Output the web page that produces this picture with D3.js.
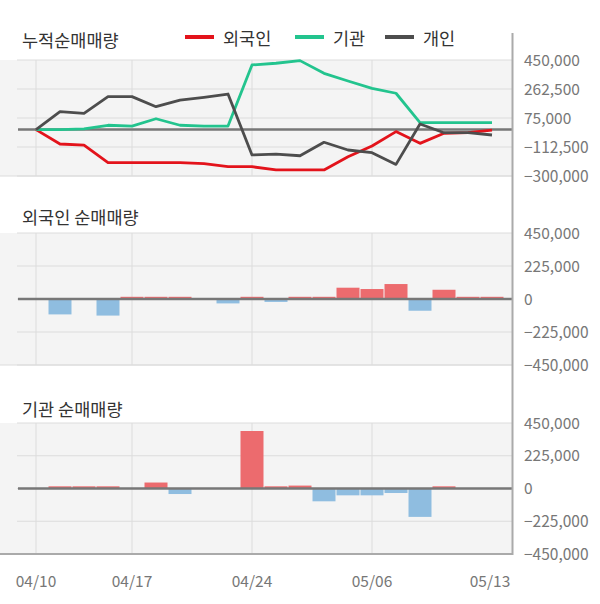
<!DOCTYPE html>
<html>
<head>
<meta charset="utf-8">
<script src="https://cdn.jsdelivr.net/npm/d3@7"></script>
<style>
  body { margin: 0; background: #fff; }
  text { font-family: "Noto Sans CJK KR", "Noto Sans", sans-serif; }
</style>
</head>
<body>
<div id="chart"></div>
<script>
var width = 600;
var height = 604;

// 20 trading days, only some are labelled
var days = d3.range(20);
var tickIndex = [0, 4, 9, 14, 19];
var tickLabels = ["04/10", "04/17", "04/24", "05/06", "05/13"];

// cumulative net buying
var foreignCum = [0, -93000, -101000, -214000, -214000, -214000, -214000, -220000, -240000, -240000,
    -261000, -261000, -261000, -175000, -106000, -13000, -89000, -24000, -20000, -3000];
var instCum = [0, 0, 5000, 28000, 23000, 70000, 28000, 23000, 23000, 418000,
    429000, 446000, 364000, 314000, 267000, 235000, 45000, 45000, 45000, 45000];
var personCum = [0, 116000, 105000, 213000, 213000, 148000, 191000, 209000, 230000, -164000,
    -158000, -169000, -82000, -132000, -149000, -225000, 36000, -20000, -20000, -35000];

// daily net buying
var foreignDaily = [0, -105000, -5000, -113000, 15000, 15000, 15000, 0, -30000, 15000,
    -20000, 15000, 15000, 77000, 68000, 102000, -80000, 63000, 15000, 15000];
var instDaily = [0, 15000, 15000, 15000, 0, 41000, -38000, 0, 0, 395000,
    15000, 20000, -88000, -47000, -47000, -31000, -195000, 15000, 0, 0];

var cumTicks = [450000, 262500, 75000, -112500, -300000];
var dailyTicks = [450000, 225000, 0, -225000, -450000];

var lineColors = { foreign: "#e3131b", inst: "#23c48e", person: "#4d4d4d" };
var upColor = "#ec6b6e";
var downColor = "#8fbde0";

var svg = d3.select("#chart").append("svg")
    .attr("width", width)
    .attr("height", height);

var x = d3.scaleLinear()
    .domain([0, 19])
    .range([36, 492]);
var step = x(1) - x(0);
var plotRight = 512;

var yCum = d3.scaleLinear().domain([-300000, 450000]).range([176, 60]);
var yForeign = d3.scaleLinear().domain([-450000, 450000]).range([365, 233]);
var yInst = d3.scaleLinear().domain([-450000, 450000]).range([554, 423]);

var fmt = d3.format(",");

function drawPanel(y, ticks, bottomColor, bottomWidth) {
    var g = svg.append("g");
    g.append("rect")
        .attr("x", 0)
        .attr("y", y.range()[1])
        .attr("width", plotRight)
        .attr("height", y.range()[0] - y.range()[1])
        .attr("fill", "#f4f4f4");

    g.selectAll(".hgrid")
        .data(ticks)
        .enter().append("line")
        .attr("x1", 17)
        .attr("x2", plotRight)
        .attr("y1", function(d) { return y(d); })
        .attr("y2", function(d) { return y(d); })
        .attr("stroke", "#dcdcdc")
        .attr("stroke-width", 1);

    g.selectAll(".vgrid")
        .data(tickIndex.slice(0, 4))
        .enter().append("line")
        .attr("x1", function(d) { return x(d); })
        .attr("x2", function(d) { return x(d); })
        .attr("y1", y.range()[1])
        .attr("y2", y.range()[0])
        .attr("stroke", "#dcdcdc")
        .attr("stroke-width", 1);

    g.append("line")
        .attr("x1", 0)
        .attr("x2", plotRight)
        .attr("y1", y.range()[0])
        .attr("y2", y.range()[0])
        .attr("stroke", bottomColor)
        .attr("stroke-width", bottomWidth);

    g.selectAll(".ylabel")
        .data(ticks)
        .enter().append("text")
        .attr("x", 524)
        .attr("y", function(d) { return y(d); })
        .attr("dy", "0.36em")
        .attr("font-size", 15.5)
        .attr("fill", "#777")
        .text(function(d) { return fmt(d); });
    return g;
}

function zeroLine(y) {
    svg.append("line")
        .attr("x1", 18)
        .attr("x2", plotRight)
        .attr("y1", y(0))
        .attr("y2", y(0))
        .attr("stroke", "#777")
        .attr("stroke-width", 2.5);
}

function title(txt, yPos) {
    svg.append("text")
        .attr("x", 22)
        .attr("y", yPos)
        .attr("font-size", 17.5)
        .attr("fill", "#333")
        .text(txt);
}

// top panel: cumulative
drawPanel(yCum, cumTicks, "#dcdcdc", 1);
zeroLine(yCum);

var line = d3.line()
    .x(function(d, i) { return x(i); })
    .y(function(d) { return yCum(d); });

[[foreignCum, lineColors.foreign], [instCum, lineColors.inst], [personCum, lineColors.person]].forEach(function(s) {
    svg.append("path")
        .datum(s[0])
        .attr("d", line)
        .attr("fill", "none")
        .attr("stroke", s[1])
        .attr("stroke-width", 2.8)
        .attr("stroke-linejoin", "round");
});

title("누적순매매량", 47);

var legendData = [
    { label: "외국인", color: lineColors.foreign, x: 185 },
    { label: "기관", color: lineColors.inst, x: 295 },
    { label: "개인", color: lineColors.person, x: 385 }
];
var legend = svg.append("g");
legend.selectAll("line")
    .data(legendData)
    .enter().append("line")
    .attr("x1", function(d) { return d.x; })
    .attr("x2", function(d) { return d.x + 29; })
    .attr("y1", 37)
    .attr("y2", 37)
    .attr("stroke", function(d) { return d.color; })
    .attr("stroke-width", 4);
legend.selectAll("text")
    .data(legendData)
    .enter().append("text")
    .attr("x", function(d) { return d.x + 38; })
    .attr("y", 45)
    .attr("font-size", 17.5)
    .attr("fill", "#333")
    .text(function(d) { return d.label; });

// bar panels
function drawBars(values, y) {
    svg.append("g").selectAll("rect")
        .data(values)
        .enter().append("rect")
        .attr("x", function(d, i) { return x(i) - step / 2 + 0.5; })
        .attr("width", step - 1)
        .attr("y", function(d) { return d >= 0 ? y(d) : y(0); })
        .attr("height", function(d) { return Math.abs(y(d) - y(0)); })
        .attr("fill", function(d) { return d >= 0 ? upColor : downColor; });
}

drawPanel(yForeign, dailyTicks, "#dcdcdc", 1);
drawBars(foreignDaily, yForeign);
zeroLine(yForeign);
title("외국인 순매매량", 224);

drawPanel(yInst, dailyTicks, "#aaa", 2);
drawBars(instDaily, yInst);
zeroLine(yInst);
title("기관 순매매량", 416);

// right axis line
svg.append("line")
    .attr("x1", plotRight + 0.5)
    .attr("x2", plotRight + 0.5)
    .attr("y1", 33)
    .attr("y2", 555)
    .attr("stroke", "#aaa")
    .attr("stroke-width", 2);

// x labels
svg.append("g").selectAll("text")
    .data(tickIndex)
    .enter().append("text")
    .attr("x", function(d, i) { return i === tickIndex.length - 1 ? x(d) - 2 : x(d); })
    .attr("y", 587)
    .attr("text-anchor", "middle")
    .attr("font-size", 15.5)
    .attr("fill", "#777")
    .text(function(d, i) { return tickLabels[i]; });
</script>
</body>
</html>
